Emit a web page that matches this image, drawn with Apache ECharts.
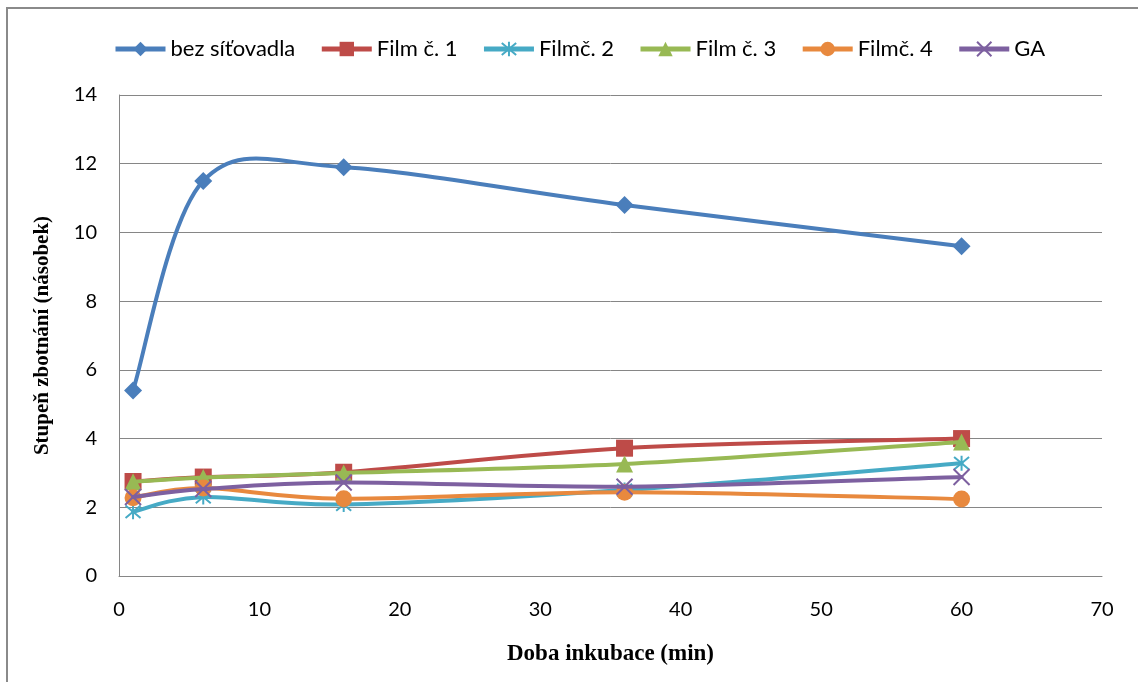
<!DOCTYPE html>
<html>
<head>
<meta charset="utf-8">
<script src="https://cdn.jsdelivr.net/npm/echarts@6/dist/echarts.min.js"></script>
<style>
  html, body { margin: 0; padding: 0; background: #fff; }
  #chart { width: 1138px; height: 682px; }
</style>
</head>
<body>
<div id="chart"></div>
<script>
// Incubation time (min)
const times = [1, 6, 16, 36, 60];
const seriesNames = ['bez síťovadla', 'Film č. 1', 'Filmč. 2', 'Film č. 3', 'Filmč. 4', 'GA'];

// Swelling degree (multiple) for each sample
const bezSitovadla = [5.4, 11.5, 11.9, 10.8, 9.6];
const film1 = [2.75, 2.88, 3.02, 3.72, 4.0];
const film2 = [1.87, 2.3, 2.08, 2.5, 3.28];
const film3 = [2.74, 2.87, 3.0, 3.26, 3.9];
const film4 = [2.28, 2.56, 2.25, 2.44, 2.24];
const ga = [2.3, 2.53, 2.72, 2.6, 2.88];

const xTicks = [0, 10, 20, 30, 40, 50, 60, 70];
const yTicks = [0, 2, 4, 6, 8, 10, 12, 14];

const colors = ['#4A7EBB', '#BE4B48', '#46AAC5', '#98B954', '#E8893E', '#7D60A0'];
const values = [bezSitovadla, film1, film2, film3, film4, ga];

const starPath = 'path://M0,0L10,10M10,0L0,10M5,-1L5,11';
const crossPath = 'path://M0,0L10,10M10,0L0,10';
const symbols = ['diamond', 'rect', starPath, 'triangle', 'circle', crossPath];
const symbolSizes = [18, 17, 15, 17, 17, 16];

const labelFont = "Lato, 'Open Sans', sans-serif";
const titleFont = "'Liberation Serif', 'DejaVu Serif', serif";

const chart = echarts.init(document.getElementById('chart'), null, { renderer: 'canvas' });

// Smoothed segment (cardinal spline, 1/6 tangent factor) between point i and i+1,
// computed in pixel space from the axis scales.
function smoothSegment(vals, color) {
  return function (params, api) {
    const i = params.dataIndex;
    const n = times.length;
    if (i >= n - 1) return null;
    const clampIdx = (j) => Math.max(0, Math.min(n - 1, j));
    const p = (j) => api.coord([times[clampIdx(j)], vals[clampIdx(j)]]);
    const p0 = p(i - 1), p1 = p(i), p2 = p(i + 1), p3 = p(i + 2);
    return {
      type: 'bezierCurve',
      shape: {
        x1: p1[0], y1: p1[1],
        x2: p2[0], y2: p2[1],
        cpx1: p1[0] + (p2[0] - p0[0]) / 6, cpy1: p1[1] + (p2[1] - p0[1]) / 6,
        cpx2: p2[0] - (p3[0] - p1[0]) / 6, cpy2: p2[1] - (p3[1] - p1[1]) / 6
      },
      style: { fill: null, stroke: color, lineWidth: 4, lineCap: 'round' },
      silent: true
    };
  };
}

const series = [];
seriesNames.forEach((name, i) => {
  const pts = times.map((t, k) => [t, values[i][k]]);
  const stroked = i === 2 || i === 5;
  series.push({
    name: name,
    type: 'line',
    data: pts,
    symbol: symbols[i],
    symbolSize: symbolSizes[i],
    lineStyle: { color: colors[i], width: 0, opacity: 0 },
    itemStyle: stroked
      ? { color: colors[i], borderColor: colors[i], borderWidth: 2 }
      : { color: colors[i] },
    emphasis: { disabled: true },
    z: 3 + 2 * i
  });
  series.push({
    name: name,
    type: 'custom',
    data: pts,
    renderItem: smoothSegment(values[i], colors[i]),
    encode: { x: 0, y: 1 },
    clip: false,
    silent: true,
    z: 2 + 2 * i
  });
});

chart.setOption({
  animation: false,
  backgroundColor: '#fff',
  color: colors,
  graphic: [{
    type: 'rect',
    shape: { x: 7, y: 8, width: 1140, height: 690 },
    style: { fill: 'none', stroke: '#8a8a8a', lineWidth: 2 },
    silent: true
  }],
  legend: {
    left: 108,
    top: 33,
    itemWidth: 50,
    itemHeight: 18,
    itemGap: 24,
    textStyle: { fontFamily: labelFont, fontSize: 22, color: '#000' },
    data: seriesNames.map((name, i) => ({
      name: name,
      lineStyle: { color: colors[i], width: 5, opacity: 1 }
    }))
  },
  grid: { left: 119, right: 36, top: 95, bottom: 106, containLabel: false },
  xAxis: {
    type: 'value',
    min: xTicks[0],
    max: xTicks[xTicks.length - 1],
    interval: 10,
    name: 'Doba inkubace (min)',
    nameLocation: 'middle',
    nameGap: 67,
    nameTextStyle: { fontFamily: titleFont, fontWeight: 'bold', fontSize: 23, color: '#000' },
    axisLine: { show: true, lineStyle: { color: '#868686', width: 1 } },
    axisTick: { show: false },
    splitLine: { show: false },
    axisLabel: { fontFamily: labelFont, fontSize: 20, color: '#000', margin: 24 }
  },
  yAxis: {
    type: 'value',
    min: yTicks[0],
    max: yTicks[yTicks.length - 1],
    interval: 2,
    name: 'Stupeň zbotnání (násobek)',
    nameLocation: 'middle',
    nameGap: 66,
    nameRotate: 90,
    nameTextStyle: { fontFamily: titleFont, fontWeight: 'bold', fontSize: 21, color: '#000' },
    axisLine: { show: true, lineStyle: { color: '#868686', width: 1 } },
    axisTick: { show: false },
    splitLine: { show: true, lineStyle: { color: '#868686', width: 1 } },
    axisLabel: { fontFamily: labelFont, fontSize: 20, color: '#000', margin: 22 }
  },
  series: series
});
</script>
</body>
</html>
